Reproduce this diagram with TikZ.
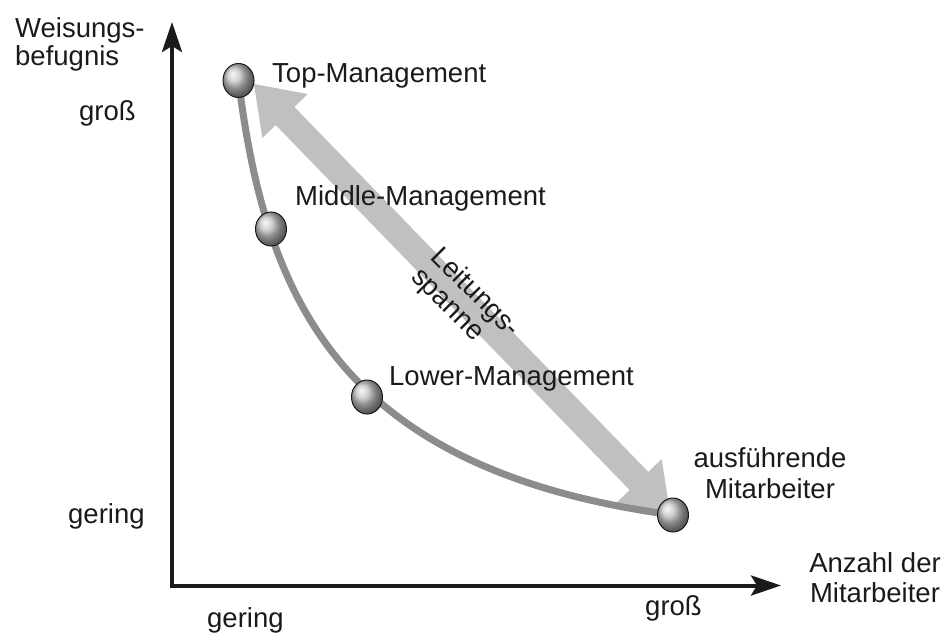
\documentclass[tikz,border=0pt]{standalone}
\usepackage{fontspec}
\setmainfont{Liberation Sans}
\usetikzlibrary{arrows.meta,shapes.geometric}
\definecolor{ink}{HTML}{1A1A1A}
\definecolor{spanarrow}{HTML}{C0C0C0}
\definecolor{curvegray}{HTML}{8C8C8C}
\begin{document}
\begin{tikzpicture}[x=1pt,y=-1pt,
  lbl/.style={font=\fontsize{27.5}{30}\selectfont, text=ink, inner sep=0pt},
  ball/.style={ellipse, draw=ink, line width=1pt, minimum width=31pt, minimum height=34pt,
    inner sep=0pt, shading=ball, ball color=gray!45!white},
  axisline/.style={draw=ink, line width=4pt, line join=miter,
    {Stealth[length=30pt,width=20pt,inset=6pt]}-{Stealth[length=30pt,width=20pt,inset=6pt]}},
  spanline/.style={draw=spanarrow, line width=26pt,
    {Triangle[length=45pt,width=60pt]}-{Triangle[length=45pt,width=60pt]}},
  curveline/.style={draw=curvegray, line width=7pt}
]
\useasboundingbox (0,0) rectangle (944,639);

% axes
\coordinate (O) at (172,585.5);
\coordinate (ytip) at (172,22);
\coordinate (xtip) at (781,585.5);
\draw[axisline] (ytip) -- (O) -- (xtip);

% spheres positions
\coordinate (ptop) at (238.5,80.5);
\coordinate (pmid) at (271,229);
\coordinate (plow) at (367,397);
\coordinate (pbot) at (673,515);

% Leitungsspanne arrow
\coordinate (ltop) at (253.7,83.7);
\coordinate (lbot) at (670.3,513.3);
\draw[spanline] (ltop) -- (lbot);

% hierarchy curve
\draw[curveline] (ptop) .. controls (266,300) and (340,470) .. (pbot);

% spheres
\node[ball] (top) at (ptop) {};
\node[ball] (mid) at (pmid) {};
\node[ball] (low) at (plow) {};
\node[ball] (bot) at (pbot) {};

% labels (base anchor of multi-line nodes = last line's baseline)
\node[lbl, anchor=base west, align=left, font=\fontsize{27.5}{28.5}\selectfont] (wb) at (15,66) {Weisungs-\\befugnis};
\node[lbl, anchor=base west] (ygross) at (79,121) {groß};
\node[lbl, anchor=base west] (ygering) at (68,523) {gering};
\node[lbl, anchor=base west] (xgering) at (207,627) {gering};
\node[lbl, anchor=base west] (xgross) at (645,615) {groß};
\node[lbl, anchor=base, align=center] (anz) at (875,602) {Anzahl der\\Mitarbeiter};
\node[lbl, anchor=base west] (ltopm) at (272,83) {Top-Management};
\node[lbl, anchor=base west] (lmidm) at (295,205) {Middle-Management};
\node[lbl, anchor=base west] (llowm) at (389,385) {Lower-Management};
\node[lbl, anchor=base, align=center, font=\fontsize{27.5}{31}\selectfont] (lausf) at (770,498) {ausführende\\Mitarbeiter};
\node[lbl, anchor=base west, align=left, rotate=-45,
  font=\fontsize{27.5}{28}\selectfont] (lspan) at (410,278) {Leitungs-\\spanne};
\end{tikzpicture}
\end{document}
